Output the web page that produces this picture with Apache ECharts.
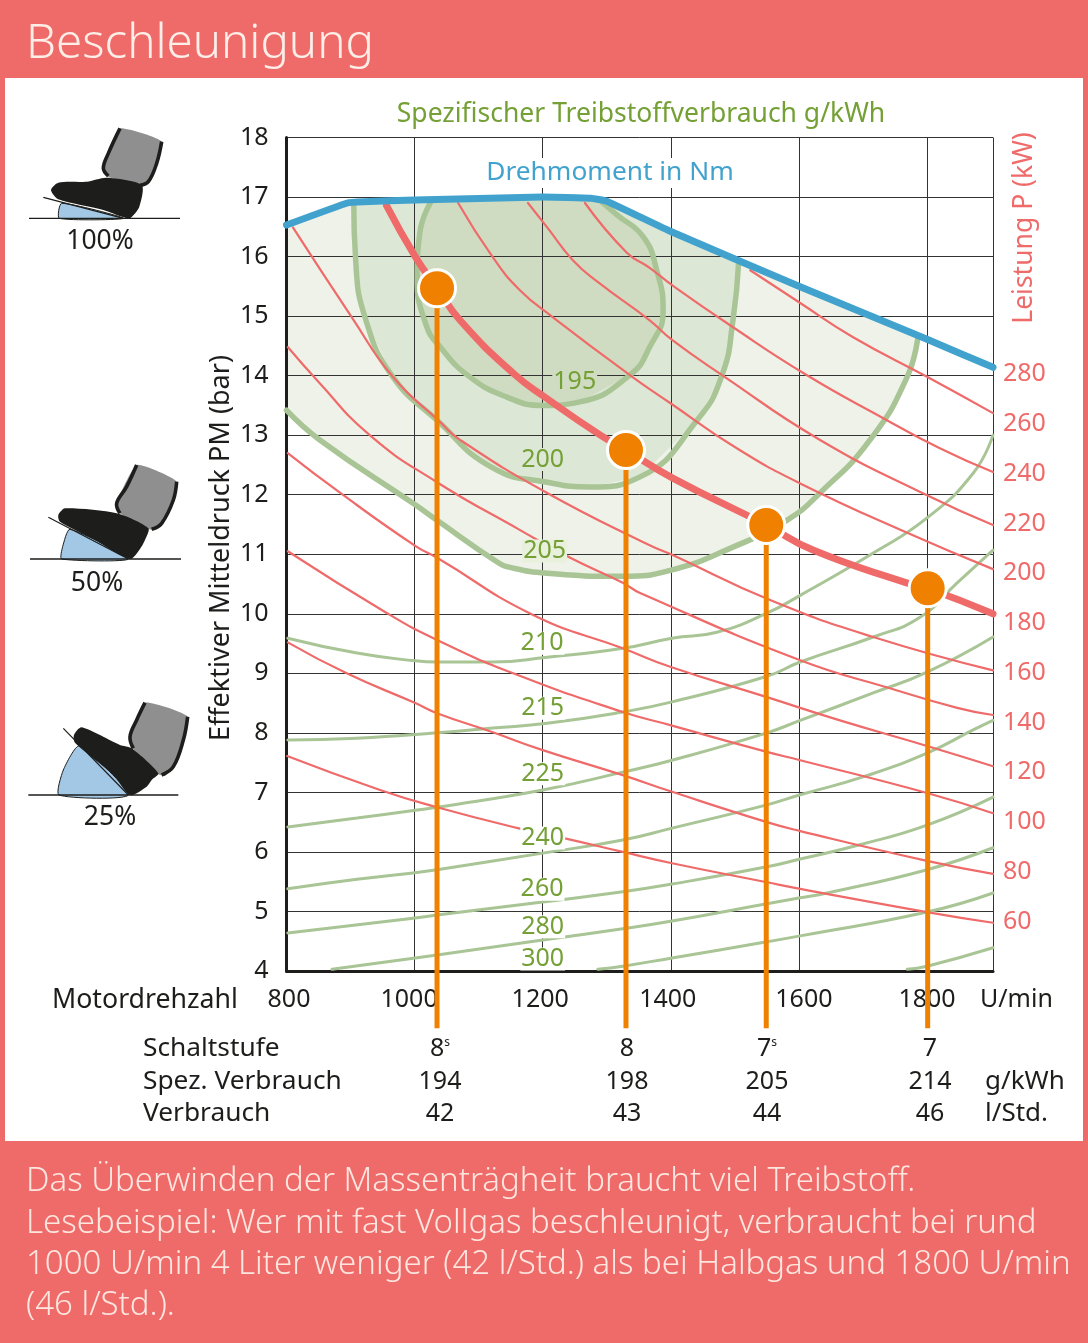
<!DOCTYPE html>
<html><head><meta charset="utf-8">
<style>html,body{margin:0;padding:0;background:#fff}#c{width:1088px;height:1343px}</style>
<script src="https://cdn.jsdelivr.net/npm/echarts@6/dist/echarts.min.js"></script>
</head><body><div id="c"></div>
<script>
const xTicks=[800,1000,1200,1400,1600,1800];
const powerTicks=[60,80,100,120,140,160,180,200,220,240,260,280];
const torque=[[800,16.53],[895,16.9],[920,16.92],[1000,16.95],[1200,17.0],[1275,16.98],[1300,16.93],[1400,16.42],[1600,15.5],[1800,14.61],[1903,14.14]];
const powerFull=[[956,16.86],[1001,16.0],[1035,15.47],[1071,14.93],[1154,14.04],[1206,13.62],[1290,13.0],[1330,12.75],[1403,12.28],[1549,11.49],[1622,11.07],[1768,10.52],[1801,10.43],[1903,10.0]];
const powerA=[[810,16.49],[902,14.98],[966,13.98],[1040,13.22],[1071,12.92],[1207,12.03],[1367,11.15],[1402,10.99],[1555,10.23],[1716,9.61],[1903,9.05]];
const powerB=[[802,14.48],[848,13.92],[930,13.0],[1035,12.21],[1164,11.41],[1243,10.94],[1325,10.52],[1352,10.35],[1602,9.22],[1742,8.75],[1847,8.42],[1903,8.30]];
const powerC=[[802,12.70],[884,12.03],[1001,11.14],[1035,10.94],[1185,9.98],[1325,9.42],[1399,9.11],[1550,8.60],[1664,8.21],[1800,7.78],[1903,7.44]];
const powerD=[[802,11.05],[957,10.01],[1035,9.56],[1154,9.0],[1325,8.35],[1399,8.13],[1550,7.68],[1602,7.54],[1800,6.99],[1903,6.65]];
const powerE=[[802,9.52],[894,9.0],[1001,8.50],[1035,8.33],[1122,8.01],[1200,7.71],[1325,7.29],[1402,7.01],[1550,6.50],[1602,6.35],[1800,5.85],[1903,5.63]];
const powerF=[[801,7.61],[946,7.04],[1035,6.75],[1161,6.40],[1238,6.22],[1325,6.0],[1402,5.81],[1550,5.49],[1602,5.38],[1800,4.99],[1903,4.81]];
const powerG=[[1068,16.90],[1122,15.99],[1164,15.44],[1216,14.98],[1336,14.01],[1399,13.54],[1503,12.78],[1602,12.19],[1769,11.36],[1903,10.75]];
const powerH=[[1177,16.90],[1207,16.49],[1247,15.94],[1289,15.55],[1367,14.93],[1402,14.60],[1480,14.01],[1633,12.92],[1800,11.99],[1903,11.49]];
const powerI=[[1266,16.90],[1331,16.07],[1367,15.81],[1402,15.52],[1492,14.85],[1612,14.01],[1731,13.29],[1820,12.78],[1903,12.38]];
const powerJ=[[1524,15.77],[1602,15.22],[1684,14.65],[1800,13.98],[1903,13.37]];
const cons210=[[802,9.59],[910,9.34],[1001,9.21],[1035,9.19],[1122,9.19],[1207,9.27],[1325,9.42],[1402,9.59],[1472,9.69],[1550,10.01],[1602,10.31],[1716,11.02],[1800,11.61],[1872,12.36],[1903,13.0]];
const cons215=[[802,7.88],[910,7.91],[1035,8.0],[1122,8.08],[1207,8.16],[1325,8.35],[1402,8.52],[1550,8.95],[1602,9.19],[1716,9.61],[1789,9.94],[1847,10.52],[1903,11.07]];
const cons225=[[802,6.42],[910,6.57],[1001,6.70],[1035,6.75],[1200,7.04],[1325,7.34],[1402,7.54],[1550,8.0],[1602,8.21],[1716,8.67],[1800,9.02],[1903,9.61]];
const cons240=[[802,5.38],[910,5.54],[1001,5.65],[1035,5.70],[1200,5.98],[1325,6.20],[1402,6.40],[1550,6.79],[1602,6.96],[1700,7.26],[1800,7.66],[1872,8.05],[1903,8.21]];
const cons260=[[802,4.64],[1001,4.89],[1035,4.94],[1200,5.16],[1325,5.33],[1402,5.46],[1550,5.75],[1602,5.88],[1695,6.12],[1800,6.45],[1903,6.92]];
const cons280=[[871,4.03],[1001,4.22],[1035,4.27],[1200,4.52],[1325,4.71],[1402,4.84],[1550,5.13],[1602,5.23],[1644,5.31],[1800,5.70],[1903,6.07]];
const cons300=[[1286,4.03],[1325,4.08],[1402,4.22],[1550,4.49],[1602,4.59],[1800,4.99],[1903,5.31]];
const cons320=[[1769,4.03],[1800,4.08],[1903,4.39]];
const island205=[[800,13.42],[852,12.92],[1001,11.83],[1035,11.57],[1129,10.87],[1149,10.78],[1207,10.68],[1325,10.63],[1399,10.73],[1497,11.12],[1581,11.57],[1633,12.03],[1711,12.92],[1769,13.98],[1786,14.67]];
const island200=[[905,16.90],[908,15.94],[924,14.93],[966,13.98],[1035,13.25],[1122,12.45],[1207,12.21],[1274,12.13],[1352,12.30],[1441,13.25],[1480,14.01],[1497,14.93],[1506,15.92]];
const island195=[[1027,16.95],[1008,16.39],[1004,15.65],[1018,14.85],[1040,14.48],[1086,13.98],[1144,13.64],[1200,13.50],[1258,13.56],[1336,14.01],[1367,14.48],[1388,15.10],[1378,15.77],[1357,16.33],[1316,16.70],[1294,16.90]];
const contourLabels=[['195',1250,13.92,'#cfdcc2'],['200',1200,12.61,'#dde7d6'],['205',1203,11.07,'#e9f0dc'],['210',1199,9.52,'#fff'],['215',1200,8.43,'#fff'],['225',1200,7.33,'#fff'],['240',1200,6.25,'#fff'],['260',1199,5.39,'#fff'],['280',1200,4.76,'#fff'],['300',1200,4.22,'#fff']];
const opX=[1035,1330,1549,1801];
const opY=[15.47,12.75,11.49,10.43];
const opFoot=3.04;
const rowNames=['Schaltstufe','Spez. Verbrauch','Verbrauch'];
const gears=['8','8','7','7'];
const gearSup=['s','','s',''];
const specific=['194','198','205','214'];
const consumption=['42','43','44','46'];
const units=['','g/kWh','l/Std.'];
const bodyLines=['Das Überwinden der Massenträgheit braucht viel Treibstoff.','Lesebeispiel: Wer mit fast Vollgas beschleunigt, verbraucht bei rund','1000 U/min 4 Liter weniger (42 l/Std.) als bei Halbgas und 1800 U/min','(46 l/Std.).'];

const RED='#ef6b6a',GREEN='#a9c596',LABG='#74a035',BLUE='#42a2ce',ORANGE='#f08000',INK='#1d1d1b',FF='"Noto Sans"';
const xLabelShift={800:2.5,1000:-5.5,1200:-2.5,1400:-3,1600:5,1800:0};
const rich={};
xTicks.forEach(t=>{const s=xLabelShift[t];rich['t'+t]={fontSize:25,fontFamily:FF,color:INK,padding:[0,s<0?-2*s:0,0,s>0?2*s:0]};});

const line=(d,w,c,z,smooth)=>({type:'line',data:d,symbol:'none',smooth:smooth===undefined?0.5:smooth,z:z,silent:true,animation:false,lineStyle:{width:w,color:c,cap:'round',join:'round'}});
const polyOf=(contour)=>{
  const a=contour[0][0],b=contour[contour.length-1][0];
  const top=torque.filter(p=>p[0]>=a&&p[0]<b).reverse();
  return contour.concat(top);
};
const fill=(contour,color)=>({type:'custom',z:1,silent:true,animation:false,data:[contour[0]],clip:true,
  renderItem:(p,api)=>({type:'polygon',shape:{points:polyOf(contour).map(q=>api.coord(q))},style:{fill:color}})});

const series=[
 fill(island205,'#eef2e8'),fill(island200,'#dde7d6'),fill(island195,'#cfdcc2'),
 ...[island205,island200,island195].map(d=>line(d,5.5,GREEN,3)),
 ...[cons210,cons215,cons225,cons240,cons260,cons280,cons300,cons320].map(d=>line(d,3,GREEN,3)),
 ...[powerA,powerB,powerC,powerD,powerE,powerF,powerG,powerH,powerI,powerJ].map(d=>line(d,2.2,RED,4)),
 line(powerFull,7,RED,5),
 line(torque,7,BLUE,6,0.1),
 ...opX.map((x,i)=>{const s=line([[x,opY[i]],[x,opFoot]],5,ORANGE,7,false);s.clip=false;s.lineStyle.cap='butt';return s;}),
 {type:'scatter',z:8,silent:true,animation:false,symbolSize:1,itemStyle:{color:'transparent',opacity:1},
  data:contourLabels.map(l=>({name:l[0],value:[l[1],l[2]],label:{backgroundColor:l[3]}})),
  label:{show:true,position:'inside',offset:[0,1],formatter:'{b}',fontSize:25,fontFamily:FF,color:LABG,opacity:1,padding:[-1,1,-1,1]}},
 {type:'scatter',z:9,silent:true,animation:false,symbol:'circle',symbolSize:37,
  itemStyle:{color:ORANGE,borderColor:'#fff',borderWidth:3,opacity:1},
  data:opX.map((x,i)=>[x,opY[i]])}
];

const g=[];
g.push({type:'rect',z:-20,shape:{x:0,y:0,width:1088,height:1343},style:{fill:RED}});
g.push({type:'rect',z:-19,shape:{x:5,y:78,width:1078,height:1063},style:{fill:'#fff'}});
const txt=(text,x,y,font,fill,align,extra)=>Object.assign({type:'text',z:20,x:x,y:y,silent:true,style:Object.assign({text:text,x:0,y:0,font:font,fill:fill,align:align||'left',verticalAlign:'middle'},extra&&extra.style||{})},extra&&extra.el||{});
const F=(s,w)=>(w?w+' ':'')+s+'px '+FF;
g.push(txt('Beschleunigung',26,44,F(47.5,300),'#fdeee8'));
bodyLines.forEach((t,i)=>g.push(txt(t,26,[1182,1224,1265,1306][i],F(33,300),'#fde6df')));
g.push(txt('Spezifischer Treibstoffverbrauch g/kWh',641,114,F(26.5),LABG,'center'));
g.push(txt('Drehmoment in Nm',610,173,F(26.3),BLUE,'center',{style:{backgroundColor:'#fff',padding:[2,3,2,3]}}));
g.push(txt('Effektiver Mitteldruck PM (bar)',221,548,F(27),INK,'center',{el:{rotation:Math.PI/2}}));
g.push(txt('Leistung P (kW)',1024,228,F(26.5),RED,'center',{el:{rotation:Math.PI/2}}));
g.push(txt('Motordrehzahl',52,1000,F(26.7),INK));
g.push(txt('U/min',980,1000,F(25),INK));
const colX=[440,627,767,930],rowY=[1049,1082,1114];
rowNames.forEach((t,i)=>g.push(txt(t,143,rowY[i],F(26.3),INK)));
units.forEach((t,i)=>{if(t)g.push(txt(t,985,rowY[i],F(26),INK));});
colX.forEach((x,i)=>{
  g.push({type:'text',z:20,silent:true,x:x,y:rowY[0],style:{text:'{a|'+gears[i]+'}'+(gearSup[i]?'{s|'+gearSup[i]+'}':''),align:'center',verticalAlign:'middle',
    rich:{a:{font:F(25),fill:INK},s:{font:F(12),fill:INK,verticalAlign:'top',padding:[0,0,10,0]}}}});
  g.push(txt(specific[i],x,rowY[1],F(25),INK,'center'));
  g.push(txt(consumption[i],x,rowY[2],F(25),INK,'center'));
});
// pedal pictograms
const pedal=(ox,oy,base,blue,lineP,foot,shin,leftEdge,rightEdge,label,lx,ly)=>{
  const m=a=>a.map(p=>[ox+p[0]/3,oy+p[1]/3]);
  g.push({type:'polygon',z:10,silent:true,shape:{points:m(blue),smooth:0.2},style:{fill:'#a2c8e6',stroke:INK,lineWidth:1}});
  g.push({type:'polygon',z:11,silent:true,shape:{points:m(shin),smooth:0.15},style:{fill:'#8f8f8f'}});
  [leftEdge,rightEdge].forEach(e=>g.push({type:'polyline',z:12,silent:true,shape:{points:m(e),smooth:0.4},style:{stroke:INK,lineWidth:3.6,fill:null}}));
  g.push({type:'polygon',z:13,silent:true,shape:{points:m(foot),smooth:0.25},style:{fill:INK}});
  g.push({type:'polyline',z:14,silent:true,shape:{points:m(lineP)},style:{stroke:INK,lineWidth:1.2,fill:null}});
  g.push({type:'polyline',z:14,silent:true,shape:{points:m(base)},style:{stroke:INK,lineWidth:1.4,fill:null}});
  g.push(txt(label,lx,ly,F(26.5),INK,'center'));
};
pedal(20,110,[[27,325],[480,325]],[[118,325],[125,280],[310,325]],[[70,262],[310,325]],
 [[93,240],[115,218],[200,215],[260,203],[365,225],[358,290],[330,325],[310,322],[250,300],[115,268]],
 [[300,55],[425,95],[385,215],[360,228],[265,200],[250,175],[265,130]],
 [[300,55],[265,130],[250,175],[265,198]],[[425,95],[410,160],[385,215],[360,226]],'100%',100,241);
pedal(20,450,[[30,327],[483,327]],[[125,327],[128,290],[150,238],[325,327]],[[85,202],[325,327]],
 [[115,195],[135,175],[290,190],[385,235],[375,270],[358,300],[330,327],[215,265],[120,215]],
 [[350,45],[470,95],[440,190],[410,238],[385,238],[300,190],[290,160]],
 [[350,45],[320,110],[290,160],[300,190]],[[470,95],[460,150],[425,220],[395,238]],'50%',97,583);
pedal(20,450,[[25,1035],[475,1035]],[[117,1035],[130,960],[178,888],[325,1035]],[[130,835],[325,1035]],
 [[162,855],[185,832],[300,885],[335,895],[415,970],[395,990],[380,1010],[330,1035],[280,975],[165,878]],
 [[375,758],[503,800],[475,920],[435,978],[410,970],[335,890],[330,860]],
 [[375,758],[350,810],[330,860],[340,895]],[[503,800],[490,870],[460,950],[425,975]],'25%',110,817);

const chart=echarts.init(document.getElementById('c'),null,{renderer:'canvas'});
chart.setOption({
 animation:false,backgroundColor:'transparent',
 grid:{left:286.5,right:95,top:137.5,bottom:372,containLabel:false},
 xAxis:{type:'value',min:800,max:1903,interval:200,z:2,
   axisLine:{show:true,onZero:false,lineStyle:{color:INK,width:3}},axisTick:{show:false},
   splitLine:{show:true,showMinLine:false,lineStyle:{color:'#333',width:1}},
   axisLabel:{show:true,margin:16,rich:rich,hideOverlap:false,
     formatter:v=>xTicks.includes(v)?'{t'+v+'|'+v+'}':''}},
 yAxis:[
  {type:'value',min:4,max:18,interval:1,z:2,
   axisLine:{show:true,onZero:false,lineStyle:{color:INK,width:3}},axisTick:{show:false},
   splitLine:{show:true,showMinLine:false,lineStyle:{color:'#333',width:1}},
   axisLabel:{margin:18,fontSize:25,fontFamily:FF,color:INK}},
  {type:'value',position:'right',min:40.1,max:375.1,z:2,
   axisLine:{show:false},axisTick:{show:false},splitLine:{show:false},
   axisLabel:{margin:10,fontSize:25,fontFamily:FF,color:RED,customValues:powerTicks}}
 ],
 series:series,
 graphic:{elements:g}
});
</script></body></html>
